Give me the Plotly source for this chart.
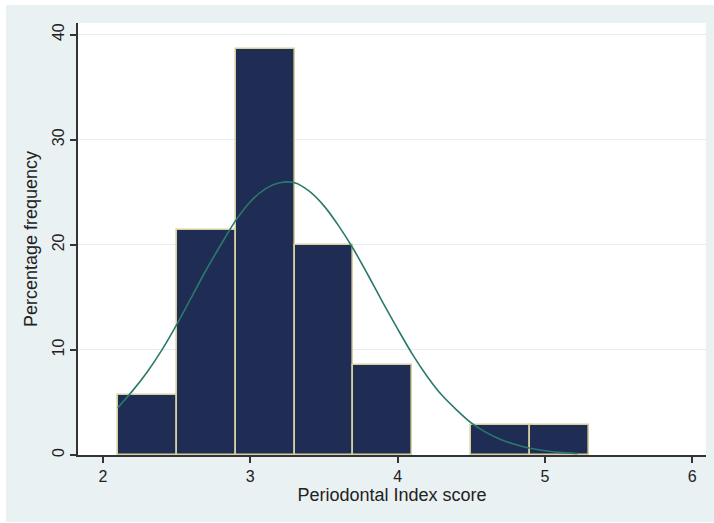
import plotly.graph_objects as go

# Histogram bins (Periodontal Index score), percentage frequency
bin_left = [2.1, 2.5, 2.9, 3.3, 3.7, 4.1, 4.5, 4.9]
bin_width = 0.4
percent = [5.7, 21.4, 38.6, 20.0, 8.6, 0.0, 2.9, 2.9]

# Normal density overlay
curve_x = [2.1, 2.2, 2.3, 2.4, 2.5, 2.6, 2.7, 2.8, 2.9, 3.0, 3.1, 3.2, 3.3, 3.4,
           3.5, 3.6, 3.7, 3.8, 3.9, 4.0, 4.1, 4.2, 4.3, 4.4, 4.5, 4.6, 4.7, 4.8,
           4.9, 5.0, 5.1, 5.22]
curve_y = [4.5, 6.1, 7.9, 10.0, 12.4, 15.0, 17.6, 20.0, 22.3, 24.1, 25.3, 25.9,
           25.9, 25.1, 23.7, 21.8, 19.6, 17.1, 14.5, 12.0, 9.6, 7.5, 5.7, 4.3,
           3.05, 2.15, 1.48, 0.99, 0.64, 0.40, 0.25, 0.13]

x_ticks = [2, 3, 4, 5, 6]
y_ticks = [0, 10, 20, 30, 40]

# empty bins are not drawn
bars = [(b + bin_width / 2, p) for b, p in zip(bin_left, percent) if p > 0]
centers = [c for c, _ in bars]
heights = [p for _, p in bars]

fig = go.Figure()
fig.add_trace(go.Bar(
    x=centers, y=heights, width=[bin_width] * len(centers),
    marker=dict(color="#1f2c54", line=dict(color="#d8cf9e", width=1.6)),
    showlegend=False, hoverinfo="skip",
))
fig.add_trace(go.Scatter(
    x=curve_x, y=curve_y, mode="lines",
    line=dict(color="#2a7a6c", width=1.6, shape="spline", smoothing=0.8),
    showlegend=False, hoverinfo="skip",
))

font = "Liberation Sans, Arial, sans-serif"
fig.update_layout(
    width=714, height=523,
    margin=dict(l=78, r=8, t=23, b=68),
    paper_bgcolor="white",
    plot_bgcolor="white",
    bargap=0,
    font=dict(family=font, size=16, color="#222222"),
    shapes=[
        dict(type="rect", xref="paper", yref="paper", x0=-0.1146, x1=1.013,
             y0=-0.155, y1=1.0417, fillcolor="#e9f1f3", line=dict(width=0),
             layer="below"),
        dict(type="rect", xref="paper", yref="paper", x0=0, x1=1, y0=0, y1=1,
             fillcolor="white", line=dict(width=0), layer="below"),
    ],
    xaxis=dict(
        range=[1.83, 6.094], tickvals=x_ticks, ticktext=[str(v) for v in x_ticks],
        showgrid=False, zeroline=False,
        showline=True, linecolor="#333333", linewidth=1.5,
        ticks="outside", ticklen=6, tickwidth=1.5, tickcolor="#333333",
        tickfont=dict(size=16),
        title=dict(text="Periodontal Index score", font=dict(size=18), standoff=2),
    ),
    yaxis=dict(
        range=[0, 41.1], tickvals=y_ticks, ticktext=[str(v) for v in y_ticks],
        showgrid=True, gridcolor="#e4eef0", gridwidth=1.2, zeroline=False,
        showline=True, linecolor="#333333", linewidth=1.5,
        ticks="outside", ticklen=6, tickwidth=1.5, tickcolor="#333333",
        tickangle=-90, tickfont=dict(size=16),
        title=dict(text="Percentage frequency", font=dict(size=18), standoff=8),
    ),
)

fig.write_html("out.html")
